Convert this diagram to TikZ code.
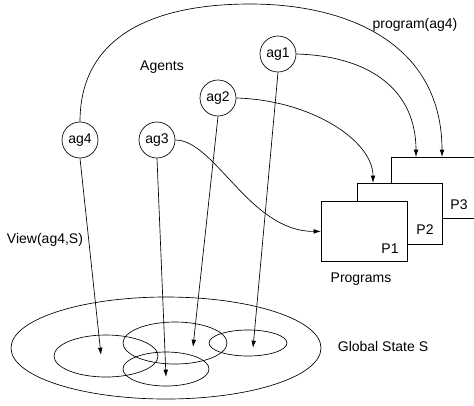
\documentclass[tikz,border=0pt]{standalone}
\usepackage{fontspec}
\setmainfont{Liberation Sans}
\usetikzlibrary{positioning}
\usetikzlibrary{arrows.meta,shapes.geometric}

\tikzset{
  agent/.style={draw,circle,minimum size=27pt,inner sep=0pt},
  prog/.style={draw,fill=white,anchor=north west,inner sep=0pt},
  region/.style={draw,ellipse,inner sep=0pt},
  link/.style={-{Latex[length=5.5pt,width=3.5pt]}},
}

\begin{document}
\begin{tikzpicture}[x=0.75pt,y=-0.75pt,font=\fontsize{10.5}{12}\selectfont,line width=0.5pt]
\useasboundingbox (0,0) rectangle (474,405);
\node[agent] (ag1) at (278,54) {ag1};
\node[agent] (ag2) at (218,98) {ag2};
\node[agent] (ag3) at (157,140) {ag3};
\node[agent] (ag4) at (80,140) {ag4};
\node at (162,67) {Agents};
%%%%%%%%%%%%%%%%%%%%%%%%%%%%%%%%%
\node[prog,minimum width=75pt,minimum height=45.75pt] (p3) at (391,157) {};
\node[prog,minimum width=63.75pt,minimum height=45.75pt] (p2) at (357,183) {};
\node[prog,minimum width=64.5pt,minimum height=45pt] (p1) at (321,201) {};
\node at (459,205) {P3};
\node at (425,230) {P2};
\node at (390,249) {P1};
\node at (361,279) {Programs};
%%%%%%%%%%%%%%%%%%%%%%%%%%%%%%%%%
\node[region,minimum width=232.5pt,minimum height=76.5pt] (gs) at (166,348) {};
\node[region,minimum width=78pt,minimum height=31.5pt] (ra) at (106,356) {};
\node[region,minimum width=78pt,minimum height=31.5pt] (rb) at (175,343) {};
\node[region,minimum width=64.5pt,minimum height=25.5pt] (rc) at (166,369) {};
\node[region,minimum width=58.5pt,minimum height=19.5pt] (rd) at (248,343) {};
\node at (383,346) {Global State S};
\node at (45,240) {View(ag4,S)};
\node at (415,25) {program(ag4)};
%%%%%%%%%%%%%%%%%%%%%%%%%%%%%%%%%
\draw[link] (ag4.north) .. controls (80,35) and (155,4) .. (250,4)
  .. controls (350,4) and (442,45) .. ([xshift=38.25pt]p3.north west);
\draw[link] (ag1.east) .. controls (370,56) and (416,90) .. ([xshift=18.75pt]p3.north west);
\draw[link] (ag2.east) .. controls (310,100) and (373,140) .. ([xshift=12pt]p2.north west);
\draw[link] (ag3.east) .. controls (215,140) and (250,232) .. (p1.west);
\draw[link] (ag4.south) -- ([xshift=-3.75pt,yshift=0.75pt]ra.center);
\draw[link] (ag3.south) -- ([yshift=-6pt]rc.center);
\draw[link] (ag2.south) -- ([xshift=13.5pt,yshift=-3pt]rb.center);
\draw[link] (ag1.south) -- ([xshift=3.75pt,yshift=-3.75pt]rd.center);
\end{tikzpicture}
\end{document}
